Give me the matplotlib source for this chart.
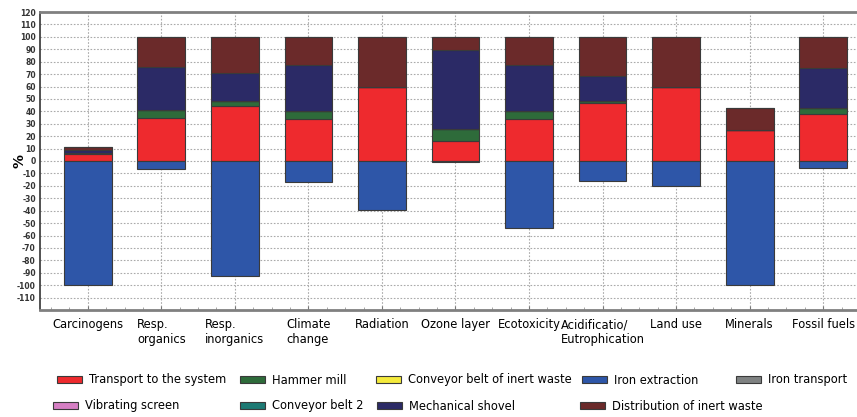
import matplotlib.pyplot as plt
import numpy as np

plt.rcParams["axes.unicode_minus"] = False

categories = ["Carcinogens", "Resp.\norganics", "Resp.\ninorganics", "Climate\nchange",
              "Radiation", "Ozone layer", "Ecotoxicity", "Acidificatio/\nEutrophication",
              "Land use", "Minerals", "Fossil fuels"]

# positive stack, bottom to top
transport = [5.5, 35, 44, 34, 59.5, 16, 34, 47, 59.5, 25, 38]
hammer = [1, 6, 4, 6.5, 0, 10, 6.5, 1.5, 0, 0, 5]
conveyor_inert = [0, 0, 0, 0, 0.5, 0, 0, 0, 0.5, 0, 0]
vibrating = [0, 0, 0, 0, 0, 0, 0, 0, 0, 0, 0]
conveyor2 = [0, 0, 0, 0, 0, 0, 0, 0, 0, 0, 0]
shovel = [2, 35, 23, 37, 0, 63.5, 37, 20, 0, 0, 32]
distribution = [3, 24, 29, 22.5, 40, 10.5, 22.5, 31.5, 40, 17.5, 25]
iron_transport = [0, 0, 0, 0, 0, 0, 0, 0, 0, 0, 0]
# negative
iron_extraction = [-100, -6.5, -93, -17, -39.5, -1, -54, -16, -20, -100, -5.5]

colors = {
    "Transport to the system": "#ee2a2e",
    "Hammer mill": "#2e6b3a",
    "Conveyor belt of inert waste": "#f4ea3c",
    "Iron extraction": "#2e56a8",
    "Iron transport": "#7f8282",
    "Vibrating screen": "#d67fc4",
    "Conveyor belt 2": "#1d7a74",
    "Mechanical shovel": "#2b2a66",
    "Distribution of inert waste": "#6b2a2a",
}

W, H = 857, 417
fig = plt.figure(figsize=(W / 100, H / 100), dpi=100)
ax = fig.add_axes([40 / W, 1 - 310 / H, 1 - 40 / W, 298 / H])

x = np.arange(len(categories))
w = 0.65
ec = "#3a3a3a"
lw = 0.8

handles = {}
bottom = np.zeros(len(categories))
stack = [("Transport to the system", transport), ("Hammer mill", hammer),
         ("Conveyor belt of inert waste", conveyor_inert), ("Vibrating screen", vibrating),
         ("Conveyor belt 2", conveyor2), ("Mechanical shovel", shovel),
         ("Distribution of inert waste", distribution), ("Iron transport", iron_transport)]
for name, vals in stack:
    vals = np.array(vals, dtype=float)
    h = ax.bar(x, vals, w, bottom=bottom, color=colors[name], edgecolor=ec,
               linewidth=lw, zorder=3)
    handles[name] = h
    bottom += vals
handles["Iron extraction"] = ax.bar(x, iron_extraction, w, color=colors["Iron extraction"],
                                    edgecolor=ec, linewidth=lw, zorder=3)

ax.set_ylim(-120, 120)
ax.set_xlim(-0.65, 10.46)
ax.set_yticks(np.arange(-110, 121, 10))
ax.tick_params(axis="y", labelsize=5.5, length=0, pad=3)
for t in ax.get_yticklabels():
    t.set_fontweight("bold")
    t.set_color("#333333")
ax.set_xticks(x)
ax.set_xticklabels(categories, fontsize=8.3, multialignment="left")
ax.tick_params(axis="x", length=3, direction="in", pad=6, color="#777777")
ax.set_xticks(np.arange(-0.5, 10.5, 0.25), minor=True)
ax.tick_params(axis="x", which="minor", length=2, direction="in", color="#999999")
ax.grid(True, which="major", linestyle=(0, (1.5, 1.5)), color="#aaaaaa", linewidth=0.8, zorder=0)
ax.set_ylabel("%", fontsize=10, fontweight="bold")
ax.yaxis.set_label_coords(-13 / (W - 40), 0.5)

for s in ["top", "bottom"]:
    ax.spines[s].set_color("#808080")
    ax.spines[s].set_linewidth(2)
ax.spines["left"].set_color("#333333")
ax.spines["left"].set_linewidth(1.2)
ax.spines["right"].set_visible(False)

# legend entries placed like the reference grid (patch left x in px, row y in px)
legend_pos = [
    ("Transport to the system", 57, 380), ("Hammer mill", 240, 380),
    ("Conveyor belt of inert waste", 376, 380), ("Iron extraction", 582, 380),
    ("Iron transport", 736, 380),
    ("Vibrating screen", 53, 406), ("Conveyor belt 2", 240, 406),
    ("Mechanical shovel", 377, 406), ("Distribution of inert waste", 580, 406),
]
for name, px, py in legend_pos:
    fig.legend([handles[name]], [name], loc="center left",
               bbox_to_anchor=(px / W, 1 - py / H), frameon=False, fontsize=8.3,
               handlelength=2.2, handleheight=0.6, handletextpad=0.6,
               borderpad=0, borderaxespad=0)

fig.savefig("out.png", dpi=100)
